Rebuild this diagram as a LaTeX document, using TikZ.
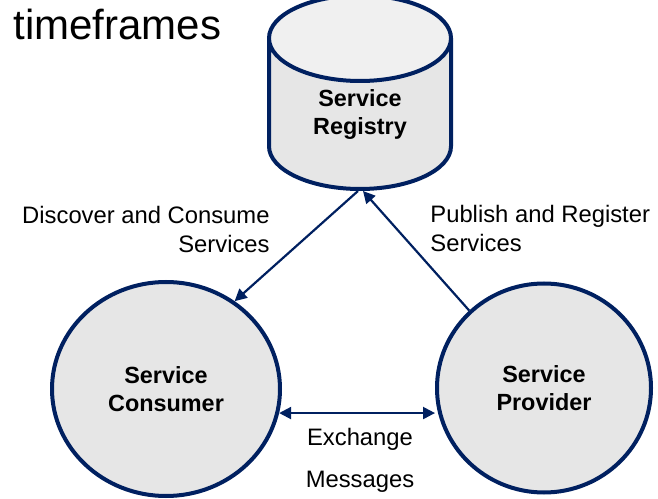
\documentclass[tikz,border=0pt]{standalone}
\usepackage{fontspec}
\setmainfont{Liberation Sans}
\usetikzlibrary{shapes.geometric,arrows.meta}
\definecolor{navy}{HTML}{002060}
\definecolor{shade}{HTML}{E6E6E6}
\definecolor{capshade}{HTML}{F0F0F0}

\begin{document}
\begin{tikzpicture}[x=0.5pt,y=0.5pt,
  party/.style={ellipse,draw=navy,line width=2pt,fill=shade,align=center,
    font=\bfseries\fontsize{11.7}{14}\selectfont},
  link/.style={draw=navy,line width=1.1pt,-{Triangle[length=6pt,width=6pt]}},
  caption/.style={font=\fontsize{11.9}{14.5}\selectfont,inner sep=0pt}]
  \useasboundingbox (0,0) rectangle (658,498);

  \node[anchor=base west,inner sep=0pt,font=\fontsize{21}{25}\selectfont] (title) at (13,458) {timeframes};

  \node[cylinder,shape border rotate=90,aspect=0.8,draw=navy,line width=2pt,
    cylinder uses custom fill,cylinder body fill=shade,cylinder end fill=capshade,
    minimum width=91pt,minimum height=95pt,align=center,anchor=south,text depth=10.5pt,
    font=\bfseries\fontsize{11.7}{14}\selectfont] (registry) at (360,307) {Service\\Registry};
  \node[party,minimum width=114pt,minimum height=107pt] (consumer) at (166,109) {Service\\Consumer};
  \node[party,minimum width=107pt,minimum height=104.5pt] (provider) at (544,110) {Service\\Provider};

  \node[caption,align=right,anchor=north east] (discover) at (270,292) {Discover and Consume\\Services};
  \node[caption,align=left,anchor=north west] (publish) at (430,293) {Publish and Register\\Services};
  \node[caption,align=center,anchor=north] (exchange) at (360,70) {Exchange\\[6.5pt]Messages};

  \draw[link] ([xshift=-1pt]registry.south) -- (consumer.52);
  \draw[link] (provider.134) -- ([xshift=1.5pt]registry.south);
  \draw[link,{Triangle[length=6pt,width=6pt]}-{Triangle[length=6pt,width=6pt]}]
    (consumer.-12) -- (consumer.-12 -| provider.west);
\end{tikzpicture}
\end{document}
